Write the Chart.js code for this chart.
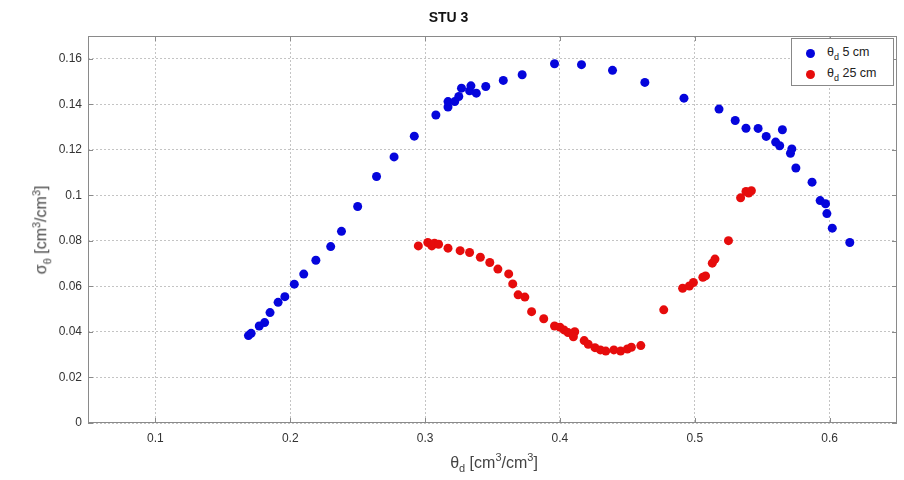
<!DOCTYPE html>
<html>
<head>
<meta charset="utf-8">
<script src="https://cdn.jsdelivr.net/npm/chart.js@4.4.0/dist/chart.umd.min.js"></script>
<style>
  html, body { margin: 0; padding: 0; background: #fff; }
  #wrap { position: relative; width: 904px; height: 480px; font-family: "Liberation Sans", Arial, sans-serif; }
  #c { position: absolute; left: 0; top: 0; }
  .axlab { position: absolute; white-space: nowrap; color: #444; font-size: 16px; line-height: 1; }
  .axlab sub, .axlab sup { font-size: 11px; }
  #ylab { left: 42px; top: 230px; transform: translate(-50%, -50%) rotate(-90deg); }
  #xlab { left: 494px; top: 463px; transform: translate(-50%, -50%); }
  #legend { position: absolute; left: 791px; top: 38px; width: 103px; height: 48px; border: 1px solid #888; background: #fff; box-sizing: border-box; font-size: 12.5px; color: #222; }
  #legend .row { position: absolute; left: 0; height: 16px; display: flex; align-items: center; }
  #legend .dot { width: 9px; height: 9px; border-radius: 50%; margin-left: 14px; margin-right: 12px; }
  #legend sub { font-size: 9px; }
</style>
</head>
<body>
<div id="wrap">
  <canvas id="c" width="904" height="480"></canvas>
  <div id="ylab" class="axlab">σ<sub>θ</sub> [cm<sup>3</sup>/cm<sup>3</sup>]</div>
  <div id="xlab" class="axlab">θ<sub>d</sub> [cm<sup>3</sup>/cm<sup>3</sup>]</div>
  <div id="legend"></div>
</div>
<script>
// ---- data ----
const titleText = "STU 3";
const seriesNames = ["5 cm", "25 cm"];
const xTicks = [0.1, 0.2, 0.3, 0.4, 0.5, 0.6];
const yTicks = [0, 0.02, 0.04, 0.06, 0.08, 0.1, 0.12, 0.14, 0.16];

const blueX = [0.169,0.171,0.177,0.181,0.185,0.191,0.196,0.203,0.210,0.219,0.230,0.238,0.250,0.264,0.277,0.292,0.308,0.317,0.317,0.322,0.325,0.327,0.333,0.334,0.338,0.345,0.358,0.372,0.396,0.416,0.439,0.463,0.492,0.518,0.530,0.538,0.547,0.553,0.560,0.563,0.565,0.571,0.572,0.575,0.587,0.593,0.597,0.598,0.602,0.615];
const blueY = [0.0384,0.0394,0.0426,0.0441,0.0485,0.0530,0.0555,0.0610,0.0654,0.0715,0.0775,0.0842,0.0951,0.1083,0.1169,0.1260,0.1353,0.1388,0.1412,0.1412,0.1434,0.1471,0.1459,0.1481,0.1449,0.1478,0.1505,0.1530,0.1578,0.1574,0.1549,0.1496,0.1427,0.1379,0.1329,0.1295,0.1294,0.1259,0.1234,0.1218,0.1288,0.1185,0.1204,0.1120,0.1058,0.0977,0.0963,0.0920,0.0856,0.0793];

const redX = [0.295,0.302,0.305,0.307,0.310,0.317,0.326,0.333,0.341,0.348,0.354,0.362,0.365,0.369,0.374,0.379,0.388,0.396,0.400,0.403,0.406,0.411,0.410,0.418,0.421,0.426,0.430,0.434,0.440,0.445,0.450,0.453,0.460,0.477,0.491,0.496,0.499,0.506,0.508,0.513,0.515,0.525,0.534,0.538,0.540,0.542];
const redY = [0.0778,0.0793,0.0778,0.0790,0.0785,0.0768,0.0757,0.0749,0.0728,0.0705,0.0676,0.0655,0.0611,0.0563,0.0553,0.0489,0.0458,0.0426,0.0421,0.0409,0.0397,0.0401,0.0379,0.0362,0.0346,0.0331,0.0321,0.0316,0.0321,0.0316,0.0325,0.0333,0.0340,0.0497,0.0592,0.0602,0.0617,0.0640,0.0646,0.0702,0.0720,0.0801,0.0989,0.1017,0.1010,0.1020];

const colors = ["rgb(5,5,220)", "rgb(230,12,12)"];

const toPts = (xs, ys) => xs.map((x, i) => ({ x: x, y: ys[i] }));

const fmt = v => String(parseFloat(v.toFixed(2)));

// frame + inward tick marks
const framePlugin = {
  id: 'frame',
  afterDraw(chart) {
    const { ctx, chartArea: a, scales } = chart;
    ctx.save();
    ctx.strokeStyle = '#8a8a8a';
    ctx.lineWidth = 1;
    ctx.setLineDash([]);
    ctx.strokeRect(Math.round(a.left) + 0.5, Math.round(a.top) + 0.5, Math.round(a.right - a.left) - 1, Math.round(a.bottom - a.top) - 1);
    ctx.beginPath();
    const tl = 5;
    xTicks.forEach(v => {
      const px = Math.round(scales.x.getPixelForValue(v)) + 0.5;
      ctx.moveTo(px, a.bottom); ctx.lineTo(px, a.bottom - tl);
      ctx.moveTo(px, a.top); ctx.lineTo(px, a.top + tl);
    });
    yTicks.forEach(v => {
      const py = Math.round(scales.y.getPixelForValue(v)) + 0.5;
      ctx.moveTo(a.left, py); ctx.lineTo(a.left + tl, py);
      ctx.moveTo(a.right, py); ctx.lineTo(a.right - tl, py);
    });
    ctx.stroke();
    ctx.restore();
  }
};

const chart = new Chart(document.getElementById('c'), {
  type: 'scatter',
  data: {
    datasets: [
      { label: seriesNames[0], data: toPts(blueX, blueY), backgroundColor: colors[0], borderColor: colors[0], pointRadius: 4.5, pointHoverRadius: 4.5, borderWidth: 0 },
      { label: seriesNames[1], data: toPts(redX, redY), backgroundColor: colors[1], borderColor: colors[1], pointRadius: 4.5, pointHoverRadius: 4.5, borderWidth: 0 }
    ]
  },
  options: {
    responsive: false,
    animation: false,
    devicePixelRatio: 1,
    layout: { padding: { left: 0, right: 7, top: 0, bottom: 0 } },
    plugins: {
      legend: { display: false },
      tooltip: { enabled: false },
      title: {
        display: true,
        text: titleText,
        color: '#111',
        font: { family: '"Liberation Sans", Arial, sans-serif', size: 14, weight: 'bold' },
        padding: { top: 10, bottom: 9.2 }
      }
    },
    scales: {
      x: {
        type: 'linear',
        min: 0.05, max: 0.65,
        afterBuildTicks: s => { s.ticks = xTicks.map(v => ({ value: v })); },
        afterFit: s => { s.height = 57; },
        ticks: { callback: v => fmt(v), color: '#333', padding: 8, font: { family: '"Liberation Sans", Arial, sans-serif', size: 12 } },
        grid: { color: '#c4c4c4', drawTicks: false, lineWidth: 1 },
        border: { display: false, dash: [2, 2] }
      },
      y: {
        type: 'linear',
        min: 0, max: 0.17,
        afterBuildTicks: s => { s.ticks = yTicks.map(v => ({ value: v })); },
        afterFit: s => { s.width = 88; },
        ticks: { callback: v => fmt(v), color: '#333', padding: 6, font: { family: '"Liberation Sans", Arial, sans-serif', size: 12 } },
        grid: { color: '#c4c4c4', drawTicks: false, lineWidth: 1 },
        border: { display: false, dash: [2, 2] }
      }
    }
  },
  plugins: [framePlugin]
});

// HTML legend built from the datasets
const leg = document.getElementById('legend');
chart.data.datasets.forEach((ds, i) => {
  const row = document.createElement('div');
  row.className = 'row';
  row.style.top = (6 + i * 21) + 'px';
  row.innerHTML = '<span class="dot" style="background:' + ds.backgroundColor + '"></span><span>θ<sub>d</sub> ' + ds.label + '</span>';
  leg.appendChild(row);
});
</script>
</body>
</html>
